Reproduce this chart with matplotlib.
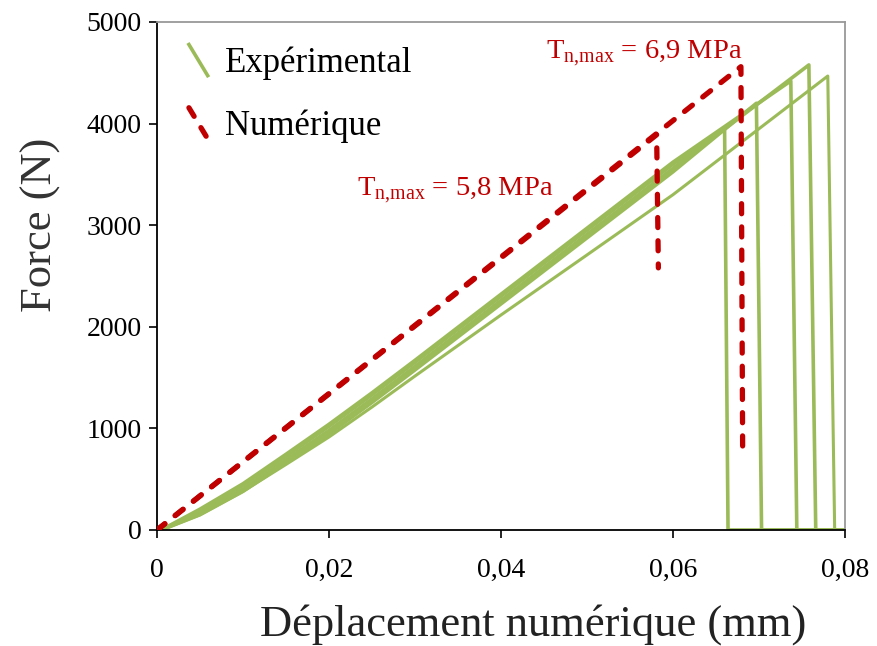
import numpy as np
import matplotlib
matplotlib.use('Agg')
import matplotlib.pyplot as plt
from matplotlib.legend_handler import HandlerBase
from matplotlib.lines import Line2D

plt.rcParams['font.family'] = ['Liberation Serif', 'DejaVu Serif']
plt.rcParams['mathtext.fontset'] = 'custom'
plt.rcParams['mathtext.rm'] = 'Liberation Serif'

# --- donnees ---
disp_common = [0.0005, 0.005, 0.010, 0.015, 0.020, 0.025, 0.030, 0.040, 0.050, 0.060]
essai1_f = [0, 190, 440, 725, 1020, 1330, 1650, 2300, 2950, 3600]
essai2_f = [0, 150, 380, 660, 945, 1255, 1575, 2225, 2875, 3525]
essai3_f = [0, 205, 455, 745, 1040, 1350, 1670, 2320, 2970, 3620]
essai4_f = [0, 165, 405, 690, 980, 1290, 1610, 2260, 2910, 3560]
essai5_f = [0, 150, 380, 645, 915, 1210, 1515, 2116, 2707, 3300]

peak_x = [0.0660, 0.0697, 0.0737, 0.0758, 0.0780]
peak_f = [3950, 4200, 4420, 4577, 4468]
rupture_x = [0.0664, 0.0703, 0.0744, 0.0766, 0.0788]
x_end = 0.08

num58_x = [0, 0.0581, 0.0583]
num58_f = [0, 3890, 2580]
num69_x = [0, 0.0679, 0.0681]
num69_f = [0, 4560, 790]

green = '#9BBB59'
red = '#C00000'


class DiagHandler(HandlerBase):
    # trait en diagonale comme dans la legende Excel
    def create_artists(self, legend, orig, xdescent, ydescent, width, height, fontsize, trans):
        x0 = -xdescent + width * 0.3
        x1 = -xdescent + width * 0.9
        y0 = -ydescent + height * 1.0
        y1 = -ydescent
        line = Line2D([x0, x1], [y0, y1])
        line.update_from(orig)
        line.set_transform(trans)
        return [line]


fig = plt.figure(figsize=(8.77, 6.46), dpi=100)
ax = fig.add_axes([0.179, 0.1796, 0.7845, 0.7864])

essais = [essai1_f, essai2_f, essai3_f, essai4_f, essai5_f]
for i, f in enumerate(essais):
    xs = disp_common + [peak_x[i], rupture_x[i], x_end]
    fs = f + [peak_f[i], 0, 0]
    ax.plot(xs, fs, color=green, lw=2.6 if i < 4 else 2.2, zorder=2,
            label='Expérimental' if i == 0 else None)

dash = (0, (1.9, 2.5))
ax.plot(num58_x, num58_f, color=red, lw=3.8, ls=dash,
        dash_capstyle='round', zorder=3, label='Numérique')
ax.plot(num69_x, num69_f, color=red, lw=3.8, ls=dash,
        dash_capstyle='round', zorder=3)

ax.text(0.0452, 4690, r'T$_{\mathregular{n{,}max}}$ = 6,9 MPa', color=red,
        fontsize=20.5, va='center', ha='left')
ax.text(0.0233, 3336, r'T$_{\mathregular{n{,}max}}$ = 5,8 MPa', color=red,
        fontsize=20.5, va='center', ha='left')

ax.set_xlim(0, 0.08)
ax.set_ylim(0, 5000)
ax.set_xticks([0, 0.02, 0.04, 0.06, 0.08])
ax.set_xticklabels(['0', '0,02', '0,04', '0,06', '0,08'])
ax.set_yticks([0, 1000, 2000, 3000, 4000, 5000])
ax.tick_params(direction='out', length=6, width=1.2, labelsize=20)
ax.tick_params(axis='x', pad=14)
ax.tick_params(axis='y', pad=5)

for s in ['left', 'bottom']:
    ax.spines[s].set_color('black')
    ax.spines[s].set_linewidth(1.3)
for s in ['top', 'right']:
    ax.spines[s].set_color('#999999')
    ax.spines[s].set_linewidth(1.3)

ax.set_xlabel('Déplacement numérique (mm)', fontsize=32, color='#222222')
ax.xaxis.set_label_coords(0.547, -0.145)
ax.set_ylabel('Force (N)', fontsize=32, color='#333333')
ax.yaxis.set_label_coords(-0.14, 0.6)

ax.legend(loc='upper left', frameon=False, fontsize=25, handlelength=0.9,
          handleheight=1.0, handletextpad=0.4, labelspacing=0.8,
          borderaxespad=0.2, borderpad=0.45, handler_map={Line2D: DiagHandler()})

fig.savefig('out.png', dpi=100)
